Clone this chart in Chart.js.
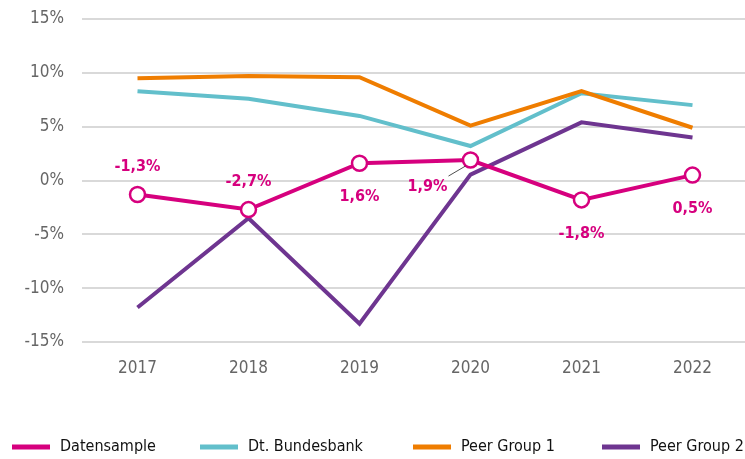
<!DOCTYPE html>
<html><head><meta charset="utf-8">
<script src="https://cdn.jsdelivr.net/npm/chart.js@4"></script>
<style>html,body{margin:0;padding:0;background:#fff;overflow:hidden}#w{width:756px;height:459px}</style>
</head><body><div id="w"><canvas id="c"></canvas></div>
<script>
const years = ['2017','2018','2019','2020','2021','2022'];
const datensample = [-1.3, -2.7, 1.6, 1.9, -1.8, 0.5];
const bundesbank = [8.3, 7.6, 6.0, 3.2, 8.1, 7.0];
const peerGroup1 = [9.5, 9.7, 9.6, 5.1, 8.3, 4.9];
const peerGroup2 = [-11.8, -3.5, -13.3, 0.55, 5.4, 4.0];
const seriesNames = ['Datensample', 'Dt. Bundesbank', 'Peer Group 1', 'Peer Group 2'];
const labelPos = ['above','above','below','left','below','below'];

const FONT = '"DejaVu Sans Condensed", "Liberation Sans Narrow", sans-serif';
const PINK = '#d6007e', CYAN = '#62bfcb', ORANGE = '#ef7d00', PURPLE = '#6e3590';

const labelsPlugin = {
  id: 'dlabels',
  afterDatasetsDraw(chart) {
    const ctx = chart.ctx;
    const meta = chart.getDatasetMeta(0);
    ctx.save();
    ctx.font = 'bold 16px ' + FONT;
    ctx.fillStyle = PINK;
    ctx.textAlign = 'center';
    ctx.textBaseline = 'middle';
    meta.data.forEach((pt, i) => {
      const txt = datensample[i].toFixed(1).replace('.', ',') + '%';
      let x = pt.x, y = pt.y;
      if (labelPos[i] === 'above') y -= 28;
      else if (labelPos[i] === 'below') y += 34;
      else {
        x -= 43; y += 27;
        ctx.strokeStyle = '#222'; ctx.lineWidth = 0.8;
        ctx.beginPath(); ctx.moveTo(pt.x - 5, pt.y + 6); ctx.lineTo(pt.x - 22, pt.y + 16); ctx.stroke();
      }
      ctx.fillText(txt, x, y);
    });
    ctx.restore();
  }
};

const legendPlugin = {
  id: 'customLegend',
  afterDraw(chart) {
    const ctx = chart.ctx;
    ctx.save();
    ctx.font = '16px ' + FONT;
    ctx.textBaseline = 'middle';
    const starts = [12, 200, 413, 602];
    const y = 447;
    chart.data.datasets.forEach((ds, i) => {
      ctx.fillStyle = ds.borderColor;
      ctx.fillRect(starts[i], y - 2.5, 38, 5);
      ctx.fillStyle = '#111';
      ctx.fillText(ds.label, starts[i] + 48, y);
    });
    ctx.restore();
  }
};

new Chart(document.getElementById('c'), {
  type: 'line',
  data: {
    labels: years,
    datasets: [
      { label: seriesNames[0], data: datensample, borderColor: PINK, backgroundColor: '#fff', borderWidth: 4,
        pointRadius: 7.5, pointBorderWidth: 2.5, pointBackgroundColor: '#fff', pointBorderColor: PINK, order: 0 },
      { label: seriesNames[1], data: bundesbank, borderColor: CYAN, borderWidth: 4, pointRadius: 0, order: 3 },
      { label: seriesNames[2], data: peerGroup1, borderColor: ORANGE, borderWidth: 4, pointRadius: 0, order: 2 },
      { label: seriesNames[3], data: peerGroup2, borderColor: PURPLE, borderWidth: 4, pointRadius: 0, order: 1 }
    ]
  },
  options: {
    responsive: true, maintainAspectRatio: false, animation: false,
    layout: { autoPadding: false, padding: { top: 19, right: 8, bottom: 0, left: 0 } },
    plugins: { legend: { display: false }, tooltip: { enabled: false } },
    scales: {
      x: {
        offset: true,
        afterFit(s) { s.height = 117; s.paddingLeft = 0; s.paddingRight = 0; },
        grid: { display: false, drawTicks: false },
        border: { display: false },
        ticks: { color: '#666', font: { family: FONT, size: 17 }, padding: 16 }
      },
      y: {
        min: -15, max: 15,
        afterFit(s) { s.width = 82; s.paddingTop = 0; s.paddingBottom = 0; },
        grid: { color: '#d9d9d9', lineWidth: 2, drawTicks: false },
        border: { display: false },
        ticks: { stepSize: 5, color: '#666', font: { family: FONT, size: 17 }, padding: 18,
          callback: v => v + '%' }
      }
    }
  },
  plugins: [labelsPlugin, legendPlugin]
});
</script></body></html>
